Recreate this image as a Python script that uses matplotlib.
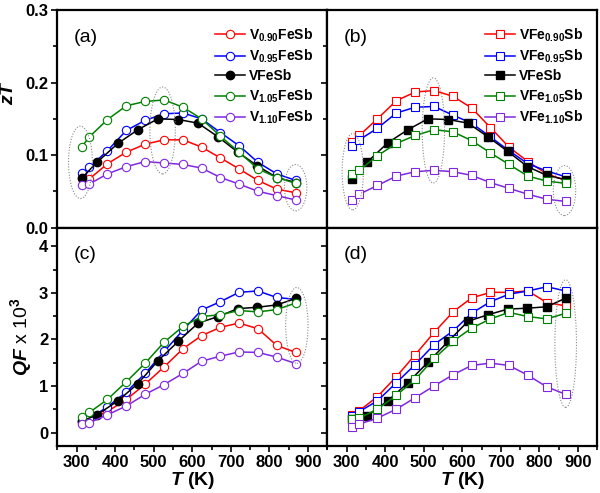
import matplotlib
matplotlib.use('Agg')
import matplotlib.pyplot as plt
from matplotlib.patches import Ellipse
from matplotlib.ticker import MultipleLocator

plt.rcParams['font.family'] = ['Liberation Sans', 'DejaVu Sans']
plt.rcParams['font.weight'] = 'bold'
plt.rcParams['mathtext.fontset'] = 'custom'
plt.rcParams['mathtext.rm'] = 'Liberation Sans:bold'
plt.rcParams['mathtext.bf'] = 'Liberation Sans:bold'
plt.rcParams['mathtext.it'] = 'Liberation Sans:italic:bold'

# temperatures (K)
T = [313, 333, 380, 429, 478, 527, 576, 624, 673, 721, 770, 819, 868]
T_ref = [313, 353, 407, 459, 511, 564, 615, 667, 718, 769, 819, 869]

# (a) zT, V-content series
zt_v090 = [0.068, 0.067, 0.088, 0.104, 0.115, 0.121, 0.121, 0.111, 0.096, 0.081, 0.065, 0.053, 0.048]
zt_v095 = [0.075, 0.083, 0.106, 0.134, 0.148, 0.157, 0.158, 0.150, 0.131, 0.113, 0.090, 0.074, 0.065]
zt_ref_a = [0.068, 0.090, 0.116, 0.135, 0.150, 0.149, 0.144, 0.125, 0.104, 0.085, 0.069, 0.062]
zt_v105 = [0.111, 0.125, 0.149, 0.168, 0.174, 0.176, 0.166, 0.150, 0.126, 0.104, 0.081, 0.069, 0.061]
zt_v110 = [0.058, 0.060, 0.074, 0.084, 0.091, 0.089, 0.087, 0.082, 0.069, 0.060, 0.050, 0.044, 0.038]

# (b) zT, Fe-content series
zt_fe090 = [0.118, 0.127, 0.150, 0.175, 0.187, 0.189, 0.181, 0.165, 0.138, 0.111, 0.091, 0.074, 0.065]
zt_fe095 = [0.112, 0.121, 0.137, 0.158, 0.166, 0.167, 0.155, 0.144, 0.125, 0.106, 0.088, 0.078, 0.070]
zt_ref_b = [0.067, 0.090, 0.117, 0.135, 0.150, 0.149, 0.144, 0.125, 0.105, 0.084, 0.072, 0.066]
zt_fe105 = [0.074, 0.079, 0.099, 0.116, 0.127, 0.135, 0.132, 0.120, 0.103, 0.087, 0.071, 0.064, 0.061]
zt_fe110 = [0.038, 0.046, 0.058, 0.071, 0.077, 0.079, 0.077, 0.072, 0.062, 0.054, 0.046, 0.039, 0.036]

# (c) QF x 10^3, V-content series
qf_v090 = [0.23, 0.28, 0.45, 0.71, 1.04, 1.41, 1.80, 2.08, 2.26, 2.35, 2.23, 1.87, 1.72]
qf_v095 = [0.25, 0.30, 0.55, 0.87, 1.27, 1.74, 2.20, 2.63, 2.81, 3.01, 3.04, 2.90, 2.86]
qf_ref_c = [0.24, 0.38, 0.68, 1.05, 1.54, 1.96, 2.35, 2.49, 2.66, 2.69, 2.74, 2.88]
qf_v105 = [0.34, 0.43, 0.71, 1.09, 1.49, 1.94, 2.28, 2.49, 2.53, 2.62, 2.59, 2.64, 2.78]
qf_v110 = [0.18, 0.21, 0.38, 0.57, 0.82, 1.03, 1.27, 1.53, 1.64, 1.73, 1.72, 1.62, 1.48]

# (d) QF x 10^3, Fe-content series
qf_fe090 = [0.38, 0.47, 0.77, 1.20, 1.67, 2.15, 2.59, 2.89, 3.01, 3.01, 3.04, 2.79, 2.72]
qf_fe095 = [0.36, 0.45, 0.68, 1.07, 1.46, 1.89, 2.18, 2.56, 2.81, 2.97, 3.04, 3.13, 3.04]
qf_ref_d = [0.30, 0.36, 0.68, 1.07, 1.51, 1.96, 2.39, 2.53, 2.65, 2.67, 2.70, 2.89]
qf_fe105 = [0.29, 0.31, 0.50, 0.80, 1.14, 1.59, 1.96, 2.24, 2.44, 2.58, 2.49, 2.44, 2.56]
qf_fe110 = [0.12, 0.18, 0.31, 0.50, 0.75, 1.00, 1.24, 1.44, 1.49, 1.44, 1.23, 0.98, 0.82]

labels_v = ['V$_{0.90}$FeSb', 'V$_{0.95}$FeSb', 'VFeSb', 'V$_{1.05}$FeSb', 'V$_{1.10}$FeSb']
labels_fe = ['VFe$_{0.90}$Sb', 'VFe$_{0.95}$Sb', 'VFeSb', 'VFe$_{1.05}$Sb', 'VFe$_{1.10}$Sb']
colors = ['#ff0000', '#0000ff', '#000000', '#008000', '#8028e0']

# dotted ellipses: (x, y, width, height)
ell_a = [(310, 0.090, 62, 0.100), (523, 0.134, 66, 0.120), (868, 0.055, 58, 0.064)]
ell_b = [(316, 0.077, 55, 0.105), (525, 0.134, 58, 0.145), (865, 0.051, 58, 0.069)]
ell_c = [(871, 2.30, 58, 1.63)]
ell_d = [(868, 1.91, 56, 2.74)]

fig = plt.figure(figsize=(6, 4.93), dpi=100)
W, H = 0.45, 0.441
ax_a = fig.add_axes([0.0955, 0.5385, W, H])
ax_b = fig.add_axes([0.5455, 0.5385, W, H])
ax_c = fig.add_axes([0.0955, 0.0953, W, 0.443])
ax_d = fig.add_axes([0.5455, 0.0953, W, 0.443])


def draw(ax, series, ref, labels, marker, ellipses, tag):
    for i, (lab, col) in enumerate(zip(labels, colors)):
        if i == 2:
            ax.plot(T_ref, ref, '-', color=col, lw=1.1, marker=marker, ms=6,
                    mfc=col, mec=col, label=lab, zorder=3)
        else:
            ys = series[i if i < 2 else i - 1]
            ax.plot(T, ys, '-', color=col, lw=1.1, marker=marker, ms=6,
                    mfc='white', mec=col, mew=0.8, label=lab, zorder=3)
    for (x, y, w, h) in ellipses:
        ax.add_patch(Ellipse((x, y), w, h, fill=False, ec='#888888',
                             ls=(0, (1, 1.5)), lw=0.8, zorder=4))
    ax.text(0.06, 0.875, tag, transform=ax.transAxes, fontsize=14,
            fontweight='normal', va='center', ha='left')
    ax.set_xlim(250, 950)
    ax.xaxis.set_major_locator(MultipleLocator(100))
    ax.xaxis.set_minor_locator(MultipleLocator(50))
    ax.tick_params(which='both', direction='out', width=1.2, labelsize=12, pad=2.5)
    ax.tick_params(which='major', length=4)
    ax.tick_params(which='minor', length=3)
    for s in ax.spines.values():
        s.set_linewidth(1.6)


draw(ax_a, [zt_v090, zt_v095, zt_v105, zt_v110], zt_ref_a, labels_v, 'o', ell_a, '(a)')
draw(ax_b, [zt_fe090, zt_fe095, zt_fe105, zt_fe110], zt_ref_b, labels_fe, 's', ell_b, '(b)')
draw(ax_c, [qf_v090, qf_v095, qf_v105, qf_v110], qf_ref_c, labels_v, 'o', ell_c, '(c)')
draw(ax_d, [qf_fe090, qf_fe095, qf_fe105, qf_fe110], qf_ref_d, labels_fe, 's', ell_d, '(d)')

for ax in (ax_a, ax_b):
    ax.set_ylim(0, 0.3)
    ax.yaxis.set_major_locator(MultipleLocator(0.1))
    ax.yaxis.set_minor_locator(MultipleLocator(0.05))
    ax.tick_params(axis='x', labelbottom=False)
    ax.legend(loc='upper right', frameon=False, fontsize=10, handlelength=2.2,
              handletextpad=0.3, labelspacing=0.3, borderaxespad=0.6,
              bbox_to_anchor=(1.0, 0.99))
ax_a.yaxis.set_major_formatter(matplotlib.ticker.FormatStrFormatter('%.1f'))

for ax in (ax_c, ax_d):
    ax.set_ylim(-0.29, 4.4)
    ax.yaxis.set_major_locator(MultipleLocator(1))
    ax.yaxis.set_minor_locator(MultipleLocator(0.5))
    ax.set_xlabel('$\\mathit{T}$ (K)', fontsize=14, fontweight='bold', labelpad=0)

ax_b.tick_params(axis='y', labelleft=False)
ax_d.tick_params(axis='y', labelleft=False)

ax_a.set_ylabel('$\\mathit{zT}$', fontsize=14)
ax_a.yaxis.set_label_coords(-0.15, 0.62)
ax_c.set_ylabel('$\\mathit{QF}$ x 10$^3$', fontsize=14)
ax_c.yaxis.set_label_coords(-0.085, 0.5)

fig.savefig('out.png', dpi=100)
